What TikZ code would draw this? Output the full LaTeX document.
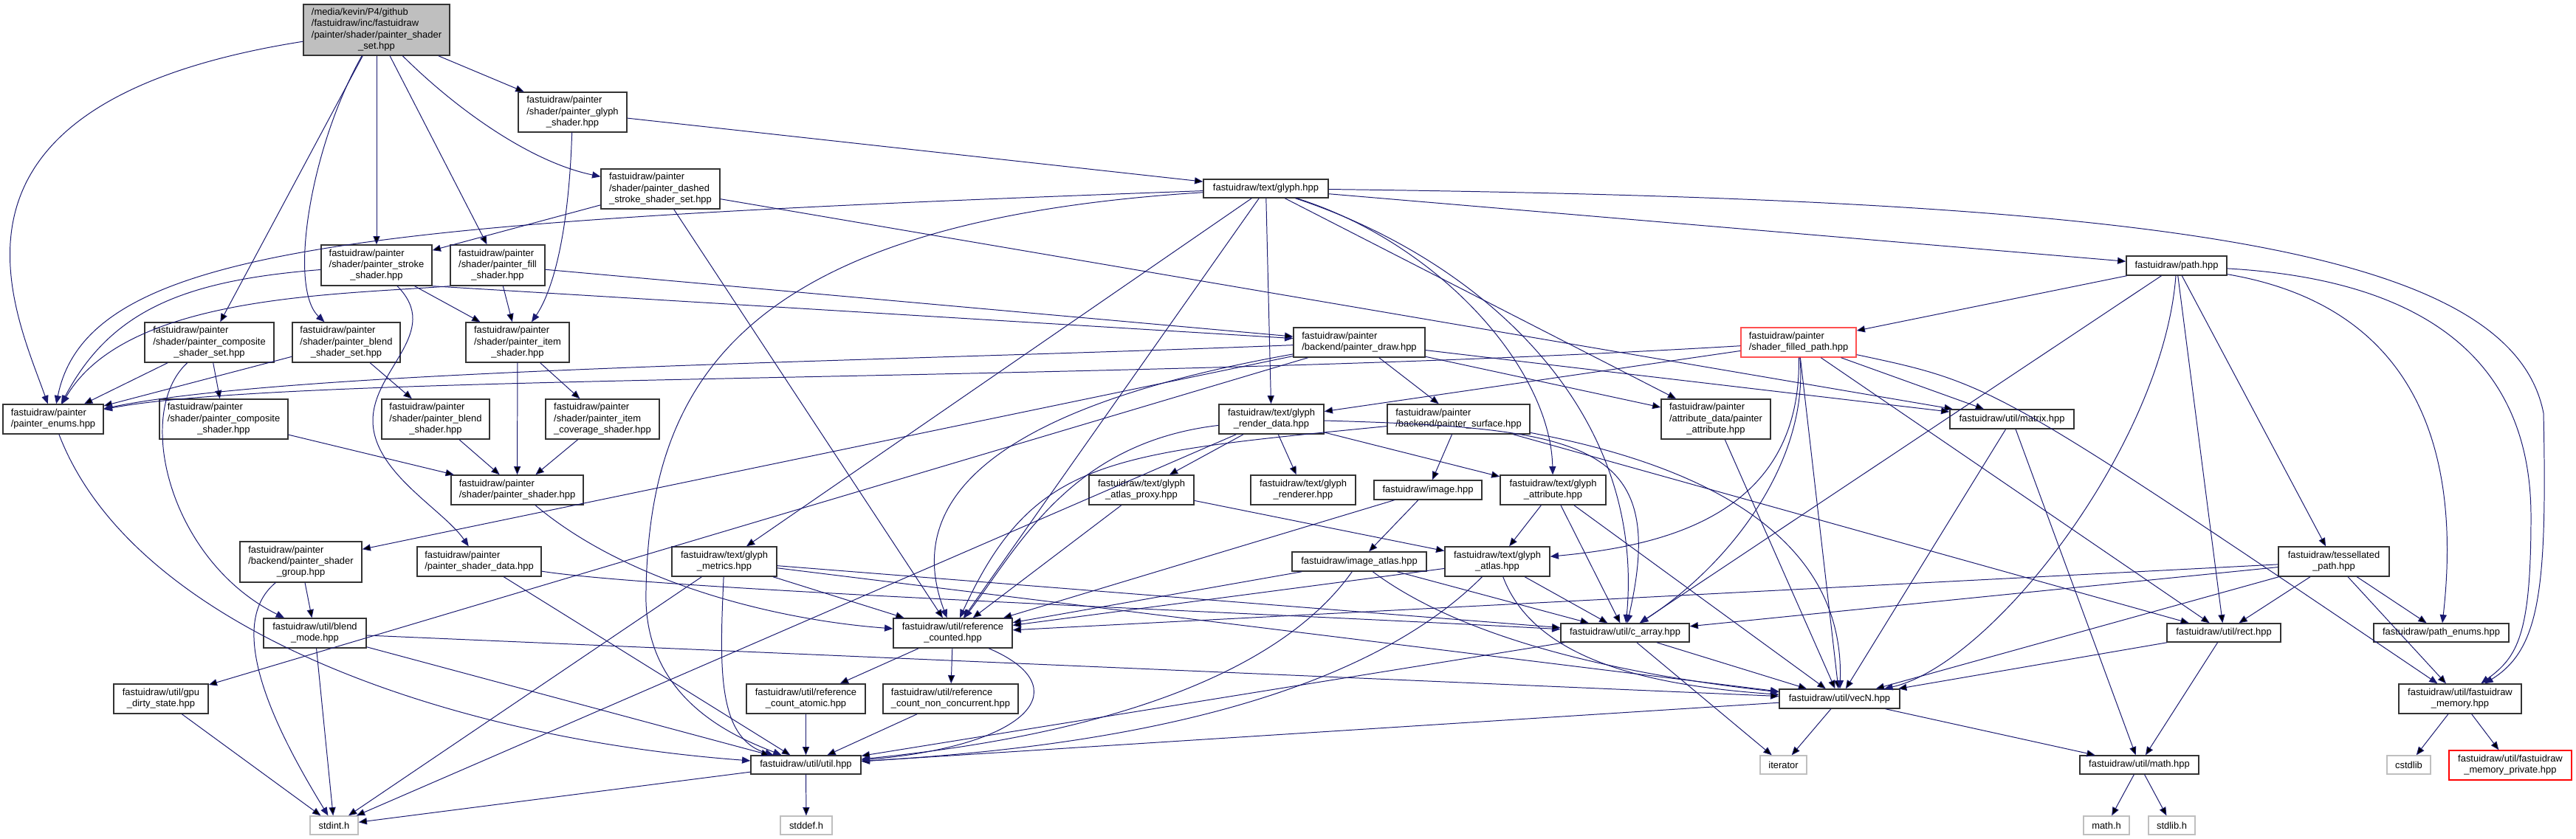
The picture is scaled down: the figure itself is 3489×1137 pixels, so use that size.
\documentclass[tikz,border=0pt]{standalone}
\usepackage{fontspec}
\setmainfont{Liberation Sans}
\usetikzlibrary{arrows.meta}

\definecolor{edgeblue}{RGB}{25,25,112}
\definecolor{curgray}{RGB}{191,191,191}
\definecolor{sysgray}{RGB}{191,191,191}
\definecolor{warnred}{RGB}{255,80,80}

\newcommand{\upx}{0.25mm}
\newcommand{\lns}[2]{\begin{tabular}{@{}l@{}}#1\\\multicolumn{1}{@{}c@{}}{#2}\end{tabular}}

\tikzset{
  hdr/.style={draw=black!80, fill=white, line width=1pt, inner sep=0pt,
    font=\fontsize{9.2}{10.9}\selectfont},
  cur/.style={hdr, fill=curgray},
  sysh/.style={hdr, draw=sysgray},
  trunc/.style={hdr, draw=red},
  sz/.style 2 args={minimum width=#1*\upx, minimum height=#2*\upx},
  dep/.style={draw=edgeblue, line width=0.7pt, -{Triangle[length=8pt, width=6.5pt]}}
}

\begin{document}
\begin{tikzpicture}[x=0.25mm, y=-0.25mm]
  \path[use as bounding box, fill=white] (0,0) rectangle (3489,1137);
  % Top of the graph
  \node[cur, sz={198}{69}] (root) at (510,40.5)
    {\lns{/media/kevin/P4/github\\/fastuidraw/inc/fastuidraw\\/painter/shader/painter\_shader}{\_set.hpp}};
  \node[hdr, sz={147}{54}] (glyphsh) at (775.5,152)
    {\lns{fastuidraw/painter\\/shader/painter\_glyph}{\_shader.hpp}};
  \node[hdr, sz={161}{54}] (dashed) at (894.5,256)
    {\lns{fastuidraw/painter\\/shader/painter\_dashed}{\_stroke\_shader\_set.hpp}};
  \node[hdr, sz={169}{25}] (glyph) at (1714.5,255.5) {fastuidraw/text/glyph.hpp};
  \node[hdr, sz={136}{26}] (path) at (2948,360) {fastuidraw/path.hpp};
  \node[hdr, sz={150}{55}] (stroke) at (510,359.5)
    {\lns{fastuidraw/painter\\/shader/painter\_stroke}{\_shader.hpp}};
  \node[hdr, sz={128}{55}] (fill) at (674,359.5)
    {\lns{fastuidraw/painter\\/shader/painter\_fill}{\_shader.hpp}};
  % Shader sets and backend
  \node[hdr, sz={175}{54}] (compset) at (283.5,464)
    {\lns{fastuidraw/painter\\/shader/painter\_composite}{\_shader\_set.hpp}};
  \node[hdr, sz={146}{54}] (blendset) at (469,464)
    {\lns{fastuidraw/painter\\/shader/painter\_blend}{\_shader\_set.hpp}};
  \node[hdr, sz={140}{54}] (itemsh) at (701,464)
    {\lns{fastuidraw/painter\\/shader/painter\_item}{\_shader.hpp}};
  \node[hdr, sz={178}{40}] (draw) at (1841,464)
    {\lns{fastuidraw/painter}{/backend/painter\_draw.hpp}};
  \node[trunc, draw=warnred, sz={156}{40}] (filled) at (2436,464)
    {\lns{fastuidraw/painter}{/shader\_filled\_path.hpp}};
  \node[hdr, sz={136}{40}] (enums) at (72,568)
    {\lns{fastuidraw/painter}{/painter\_enums.hpp}};
  \node[hdr, sz={174}{54}] (compsh) at (303,568)
    {\lns{fastuidraw/painter\\/shader/painter\_composite}{\_shader.hpp}};
  \node[hdr, sz={146}{54}] (blendsh) at (590,568)
    {\lns{fastuidraw/painter\\/shader/painter\_blend}{\_shader.hpp}};
  \node[hdr, sz={154}{54}] (covsh) at (816,568)
    {\lns{fastuidraw/painter\\/shader/painter\_item}{\_coverage\_shader.hpp}};
  \node[hdr, sz={142}{40}] (rdata) at (1722,568)
    {\lns{fastuidraw/text/glyph}{\_render\_data.hpp}};
  \node[hdr, sz={193}{40}] (surface) at (1975.5,568)
    {\lns{fastuidraw/painter}{/backend/painter\_surface.hpp}};
  \node[hdr, sz={148}{54}] (attr) at (2324,568)
    {\lns{fastuidraw/painter\\/attribute\_data/painter}{\_attribute.hpp}};
  \node[hdr, sz={168}{26}] (matrix) at (2725,568) {fastuidraw/util/matrix.hpp};
  % Middle ranks
  \node[hdr, sz={179}{40}] (shader) at (700.5,664)
    {\lns{fastuidraw/painter}{/shader/painter\_shader.hpp}};
  \node[hdr, sz={142}{40}] (proxy) at (1546,664)
    {\lns{fastuidraw/text/glyph}{\_atlas\_proxy.hpp}};
  \node[hdr, sz={142}{40}] (renderer) at (1765,664)
    {\lns{fastuidraw/text/glyph}{\_renderer.hpp}};
  \node[hdr, sz={146}{26}] (image) at (1934,664) {fastuidraw/image.hpp};
  \node[hdr, sz={143}{40}] (gattr) at (2103.5,664)
    {\lns{fastuidraw/text/glyph}{\_attribute.hpp}};
  \node[hdr, sz={165}{55}] (group) at (407.5,761.5)
    {\lns{fastuidraw/painter\\/backend/painter\_shader}{\_group.hpp}};
  \node[hdr, sz={168}{40}] (sdata) at (649,761)
    {\lns{fastuidraw/painter}{/painter\_shader\_data.hpp}};
  \node[hdr, sz={142}{40}] (metrics) at (981,761)
    {\lns{fastuidraw/text/glyph}{\_metrics.hpp}};
  \node[hdr, sz={182}{26}] (iatlas) at (1841,761) {fastuidraw/image\_atlas.hpp};
  \node[hdr, sz={142}{40}] (gatlas) at (2028,761)
    {\lns{fastuidraw/text/glyph}{\_atlas.hpp}};
  \node[hdr, sz={150}{40}] (tess) at (3161,761)
    {\lns{fastuidraw/tessellated}{\_path.hpp}};
  % Utilities
  \node[hdr, sz={139}{40}] (bmode) at (426.5,858)
    {\lns{fastuidraw/util/blend}{\_mode.hpp}};
  \node[hdr, sz={161}{40}] (refc) at (1290.5,858)
    {\lns{fastuidraw/util/reference}{\_counted.hpp}};
  \node[hdr, sz={174}{25}] (carray) at (2201,857.5) {fastuidraw/util/c\_array.hpp};
  \node[hdr, sz={154}{25}] (rect) at (3012,857.5) {fastuidraw/util/rect.hpp};
  \node[hdr, sz={183}{25}] (penums) at (3306.5,857.5) {fastuidraw/path\_enums.hpp};
  \node[hdr, sz={128}{40}] (gpu) at (218,947)
    {\lns{fastuidraw/util/gpu}{\_dirty\_state.hpp}};
  \node[hdr, sz={161}{40}] (refatomic) at (1091.5,947)
    {\lns{fastuidraw/util/reference}{\_count\_atomic.hpp}};
  \node[hdr, sz={183}{40}] (refnc) at (1287.5,947)
    {\lns{fastuidraw/util/reference}{\_count\_non\_concurrent.hpp}};
  \node[hdr, sz={163}{26}] (vecn) at (2491.5,947) {fastuidraw/util/vecN.hpp};
  \node[hdr, sz={166}{40}] (fmem) at (3332,947)
    {\lns{fastuidraw/util/fastuidraw}{\_memory.hpp}};
  \node[hdr, sz={149}{25}] (util) at (1091.5,1036.5) {fastuidraw/util/util.hpp};
  \node[sysh, sz={63}{25}] (iterator) at (2415.5,1036.5) {iterator};
  \node[hdr, sz={161}{25}] (mathhpp) at (2897.5,1036.5) {fastuidraw/util/math.hpp};
  \node[sysh, sz={59}{25}] (cstdlib) at (3262.5,1036.5) {cstdlib};
  \node[trunc, sz={166}{40}] (fmempriv) at (3400,1037)
    {\lns{fastuidraw/util/fastuidraw}{\_memory\_private.hpp}};
  % System headers
  \node[sysh, sz={65}{25}] (stdint) at (452.5,1118.5) {stdint.h};
  \node[sysh, sz={70}{25}] (stddef) at (1092,1118.5) {stddef.h};
  \node[sysh, sz={62}{25}] (mathh) at (2853,1118.5) {math.h};
  \node[sysh, sz={63}{25}] (stdlib) at (2941.5,1118.5) {stdlib.h};
  % Bend points
  \coordinate (gbend) at (875,800);
  \coordinate (sbend) at (505,570);
  \coordinate (gfbend) at (3445,560);
  \coordinate (pfbend) at (3428,700);

  % Includes of the shader set
  \path[dep] (root) edge (compset) edge (stroke) edge (fill) edge (glyphsh);
  \draw[dep] (root) .. controls (-120,140) and (20,420) .. (enums);
  \draw[dep] (root) .. controls (420,200) and (390,390) .. (blendset);
  \draw[dep] (root) .. controls (620,150) and (720,220) .. (dashed);
  \path[dep] (glyphsh) edge (glyph);
  \draw[dep] (glyphsh) .. controls (770,330) and (745,400) .. (itemsh);
  \path[dep] (dashed) edge (stroke) edge (refc) edge (matrix);
  % text/glyph.hpp
  \path[dep] (glyph) edge (metrics) edge (refc) edge (rdata) edge (path) edge (attr);
  \draw[dep] (glyph) .. controls (500,300) and (120,330) .. (enums);
  \draw[dep] (glyph) .. controls (1000,300) and (880,520) .. (gbend)
    .. controls (870,950) and (1000,1000) .. (util);
  \draw[dep] (glyph) .. controls (2000,350) and (2230,550) .. (carray);
  \draw[dep] (glyph) .. controls (1950,330) and (2100,500) .. (gattr);
  \draw[dep] (glyph) .. controls (2900,270) and (3400,330) .. (gfbend)
    .. controls (3450,800) and (3440,880) .. (fmem);
  % path.hpp
  \path[dep] (path) edge (filled) edge (carray) edge (rect) edge (tess);
  \draw[dep] (path) .. controls (2930,600) and (2700,900) .. (vecn);
  \draw[dep] (path) .. controls (3300,420) and (3330,650) .. (penums);
  \draw[dep] (path) .. controls (3300,380) and (3428,500) .. (pfbend)
    .. controls (3428,860) and (3410,890) .. (fmem);
  % Stroke and fill shaders
  \draw[dep] (stroke) .. controls (250,380) and (150,420) .. (enums);
  \path[dep] (stroke) edge (itemsh);
  \draw[dep] (stroke.south east) -- (draw);
  \draw[dep] (stroke) .. controls (600,450) and (505,500) .. (sbend)
    .. controls (505,640) and (600,690) .. (sdata);
  \draw[dep] (fill.south west) .. controls (450,400) and (170,400) .. (enums);
  \path[dep] (fill) edge (itemsh) edge (draw);
  % Shader sets
  \path[dep] (compset) edge (enums) edge (compsh);
  \draw[dep] (compset) .. controls (180,560) and (230,760) .. (bmode);
  \path[dep] (blendset) edge (enums) edge (blendsh);
  \path[dep] (itemsh) edge (shader) edge (covsh);
  \path[dep] (compsh) edge (shader);
  \path[dep] (blendsh) edge (shader);
  \path[dep] (covsh) edge (shader);
  \draw[dep] (shader) .. controls (850,790) and (1050,840) .. (refc);
  \path[dep] (group) edge (bmode);
  \draw[dep] (group) .. controls (300,850) and (380,1000) .. (stdint);
  \path[dep] (sdata) edge (util);
  \draw[dep] (sdata) .. controls (900,800) and (1700,830) .. (carray);
  % Glyph data
  \path[dep] (metrics) edge (stdint) edge (refc) edge (carray) edge (vecn);
  \draw[dep] (metrics) .. controls (975,900) and (970,1000) .. (util);
  \path[dep] (rdata) edge (proxy) edge (renderer) edge (gattr) edge (stdint);
  \draw[dep] (rdata) .. controls (1450,600) and (1380,740) .. (refc);
  \draw[dep] (rdata) .. controls (2150,580) and (2260,600) .. (carray);
  \path[dep] (proxy) edge (gatlas) edge (refc);
  % Backend draw
  \path[dep] (draw) edge (gpu) edge (group) edge (surface) edge (attr) edge (matrix);
  \draw[dep] (draw) .. controls (1200,490) and (400,500) .. (enums);
  \draw[dep] (draw) .. controls (1300,560) and (1230,700) .. (refc);
  % Filled path
  \path[dep] (filled) edge (rdata) edge (vecn) edge (rect) edge (matrix);
  \draw[dep] (filled) .. controls (1500,520) and (400,505) .. (enums);
  \draw[dep] (filled) .. controls (2440,700) and (2250,740) .. (gatlas);
  \draw[dep] (filled) .. controls (2450,620) and (2350,760) .. (carray);
  \draw[dep] (filled) .. controls (2700,520) .. (fmem);
  \path[dep] (attr) edge (vecn);
  \path[dep] (surface) edge (image) edge (rect);
  \draw[dep] (surface) .. controls (1500,615) and (1400,620) .. (refc);
  \draw[dep] (surface) .. controls (2250,620) and (2500,700) .. (vecn);
  \path[dep] (image) edge (iatlas) edge (refc);
  \path[dep] (gattr) edge (gatlas) edge (carray) edge (vecn);
  % Atlases
  \path[dep] (iatlas) edge (refc) edge (carray);
  \draw[dep] (iatlas) .. controls (2000,880) and (2250,920) .. (vecn);
  \draw[dep] (iatlas) .. controls (1700,960) and (1350,1010) .. (util);
  \path[dep] (gatlas) edge (refc) edge (carray);
  \draw[dep] (gatlas) .. controls (2080,900) and (2250,930) .. (vecn);
  \draw[dep] (gatlas) .. controls (1800,990) and (1350,1020) .. (util);
  \path[dep] (tess) edge (refc) edge (carray) edge (rect) edge (vecn) edge (fmem) edge (penums);
  % Utilities
  \path[dep] (matrix) edge (vecn) edge (mathhpp);
  \path[dep] (rect) edge (vecn) edge (mathhpp);
  \path[dep] (fmem) edge (cstdlib) edge (fmempriv);
  \path[dep] (carray) edge (util) edge (vecn) edge (iterator);
  \path[dep] (vecn) edge (util) edge (iterator) edge (mathhpp);
  \path[dep] (refc) edge (refatomic) edge (refnc);
  \draw[dep] (refc) .. controls (1460,930) and (1400,1010) .. (util);
  \path[dep] (refatomic) edge (util);
  \path[dep] (refnc) edge (util);
  \path[dep] (util) edge (stdint) edge (stddef);
  \path[dep] (mathhpp) edge (mathh) edge (stdlib);
  \path[dep] (bmode) edge (stdint) edge (util) edge (vecn);
  \path[dep] (gpu) edge (stdint);
  \draw[dep] (enums) .. controls (180,850) and (600,1000) .. (util);
\end{tikzpicture}
\end{document}
